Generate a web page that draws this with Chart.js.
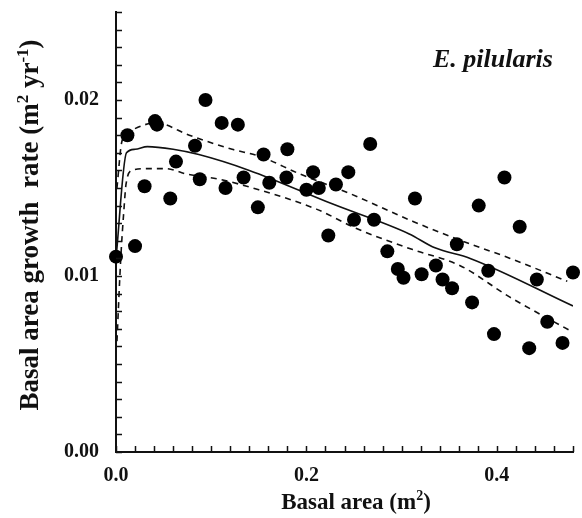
<!DOCTYPE html>
<html>
<head>
<meta charset="utf-8">
<script src="https://cdn.jsdelivr.net/npm/chart.js@4"></script>
<style>
  html, body { margin: 0; padding: 0; background: #fff; }
  #wrap { width: 582px; height: 518px; position: relative; }
</style>
</head>
<body>
<div id="wrap"><canvas id="chart"></canvas></div>
<script>
// observed trees: basal area (m2) vs growth rate (m2 / yr)
const obsX = [0.000, 0.020, 0.012, 0.041, 0.043, 0.030, 0.057, 0.063, 0.094, 0.083,
              0.088, 0.111, 0.128, 0.115, 0.134, 0.149, 0.155, 0.180, 0.161, 0.179,
              0.207, 0.200, 0.213, 0.231, 0.244, 0.267, 0.223, 0.250, 0.271, 0.314,
              0.285, 0.296, 0.302, 0.321, 0.336, 0.343, 0.353, 0.358, 0.374, 0.381,
              0.391, 0.397, 0.408, 0.424, 0.434, 0.442, 0.453, 0.469, 0.480];
const obsY = [0.0111, 0.0117, 0.0180, 0.0188, 0.0186, 0.0151, 0.0144, 0.0165, 0.0200, 0.0174,
              0.0155, 0.0187, 0.0186, 0.0150, 0.0156, 0.0139, 0.0169, 0.0172, 0.0153, 0.0156,
              0.0159, 0.0149, 0.0150, 0.0152, 0.0159, 0.0175, 0.0123, 0.0132, 0.0132, 0.0144,
              0.0114, 0.0104, 0.0099, 0.0101, 0.0106, 0.0098, 0.0093, 0.0118, 0.0085, 0.0140,
              0.0103, 0.0067, 0.0156, 0.0128, 0.0059, 0.0098, 0.0074, 0.0062, 0.0102];

// fitted curve
const fitX = [0.000, 0.011, 0.020, 0.033, 0.060, 0.087, 0.140, 0.227, 0.308, 0.335, 0.372, 0.480];
const fitY = [0.0110, 0.0170, 0.0172, 0.01735, 0.0172, 0.0169, 0.0160, 0.0141, 0.01239, 0.0116, 0.0110, 0.0083];

// confidence band
const upX = [0.001, 0.006, 0.012, 0.019, 0.042, 0.077, 0.122, 0.151, 0.193, 0.245, 0.312, 0.358, 0.414, 0.474];
const upY = [0.0150, 0.0176, 0.0181, 0.01835, 0.0187, 0.0180, 0.0172, 0.0168, 0.0158, 0.0147, 0.0131, 0.0121, 0.0110, 0.0097];
const loX = [0.001, 0.005, 0.0085, 0.0105, 0.017, 0.0315, 0.0526, 0.0737, 0.108, 0.150, 0.2105, 0.2526, 0.3116, 0.361, 0.4137, 0.4768];
const loY = [0.0063, 0.0110, 0.0139, 0.0152, 0.0160, 0.0161, 0.0161, 0.0158, 0.0155, 0.0149, 0.0138, 0.0127, 0.0115, 0.0106, 0.0088, 0.0069];

const xTickLabels = ['0.0', '0.2', '0.4'];
const yTickLabels = ['0.00', '0.01', '0.02'];

const toPts = (xs, ys) => xs.map((x, i) => ({ x: x, y: ys[i] }));
const INK = '#111';
const SERIF = '"Liberation Serif", "Times New Roman", serif';

// inward tick marks on both axes
const innerTicks = {
    id: 'innerTicks',
    afterDatasetsDraw(chart) {
        const { ctx, chartArea, scales } = chart;
        ctx.save();
        ctx.strokeStyle = INK;
        ctx.lineWidth = 1.5;
        ctx.beginPath();
        scales.x.ticks.forEach(t => {
            const px = Math.round(scales.x.getPixelForValue(t.value)) + 0.5;
            ctx.moveTo(px, chartArea.bottom);
            ctx.lineTo(px, chartArea.bottom - 6);
        });
        scales.y.ticks.forEach(t => {
            const py = Math.round(scales.y.getPixelForValue(t.value)) + 0.5;
            ctx.moveTo(chartArea.left, py);
            ctx.lineTo(chartArea.left + 6, py);
        });
        ctx.stroke();
        ctx.restore();
    }
};

// axis titles with superscripts + species label
function drawRich(ctx, parts, size) {
    let w = 0;
    parts.forEach(p => {
        ctx.font = `bold ${p.sup ? Math.round(size * 0.62) : size}px ${SERIF}`;
        p.w = ctx.measureText(p.t).width;
        w += p.w;
    });
    let x = -w / 2;
    parts.forEach(p => {
        ctx.font = `bold ${p.sup ? Math.round(size * 0.62) : size}px ${SERIF}`;
        ctx.fillText(p.t, x, p.sup ? -size * 0.38 : 0);
        x += p.w;
    });
}

const titles = {
    id: 'titles',
    afterDraw(chart) {
        const ctx = chart.ctx;
        ctx.save();
        ctx.fillStyle = INK;
        ctx.textBaseline = 'alphabetic';

        ctx.save();
        ctx.translate(356, 509);
        drawRich(ctx, [{ t: 'Basal area (m' }, { t: '2', sup: true }, { t: ')' }], 23);
        ctx.restore();

        ctx.save();
        ctx.translate(38, 225);
        ctx.rotate(-Math.PI / 2);
        drawRich(ctx, [{ t: 'Basal area growth  rate (m' }, { t: '2', sup: true },
                       { t: ' yr' }, { t: '-1', sup: true }, { t: ')' }], 27);
        ctx.restore();

        ctx.font = `italic bold 26px ${SERIF}`;
        ctx.textAlign = 'left';
        ctx.fillText('E. pilularis', 433, 67);
        ctx.restore();
    }
};

function init() {
    const ctx = document.getElementById('chart').getContext('2d');
    new Chart(ctx, {
        type: 'scatter',
        data: {
            datasets: [
                { label: 'observed', data: toPts(obsX, obsY), pointRadius: 7, pointHoverRadius: 7,
                  backgroundColor: '#000', borderColor: '#000', borderWidth: 0, clip: false },
                { label: 'fit', data: toPts(fitX, fitY), showLine: true, pointRadius: 0,
                  borderColor: INK, borderWidth: 1.6, cubicInterpolationMode: 'monotone' },
                { label: 'upper', data: toPts(upX, upY), showLine: true, pointRadius: 0,
                  borderColor: INK, borderWidth: 1.6, borderDash: [6, 5], cubicInterpolationMode: 'monotone' },
                { label: 'lower', data: toPts(loX, loY), showLine: true, pointRadius: 0,
                  borderColor: INK, borderWidth: 1.6, borderDash: [6, 5], cubicInterpolationMode: 'monotone' }
            ]
        },
        options: {
            responsive: true,
            maintainAspectRatio: false,
            animation: false,
            events: [],
            layout: { padding: { left: 0, right: 9, top: 12, bottom: 0 } },
            plugins: { legend: { display: false }, tooltip: { enabled: false } },
            scales: {
                x: {
                    type: 'linear', min: 0, max: 0.48,
                    grid: { display: false, drawTicks: false },
                    border: { display: true, color: INK, width: 2 },
                    afterFit: s => { s.height = 66; s.paddingLeft = 0; s.paddingRight = 0; },
                    ticks: {
                        stepSize: 0.02, autoSkip: false, maxRotation: 0, padding: 12,
                        color: INK, font: { family: SERIF, size: 20, weight: 'bold' },
                        callback: v => {
                            const i = Math.round(v / 0.2);
                            return Math.abs(v - i * 0.2) < 1e-6 ? (xTickLabels[i] || '') : '';
                        }
                    }
                },
                y: {
                    type: 'linear', min: 0, max: 0.025,
                    grid: { display: false, drawTicks: false },
                    border: { display: true, color: INK, width: 2 },
                    afterFit: s => { s.width = 116; s.paddingTop = 0; s.paddingBottom = 0; },
                    ticks: {
                        stepSize: 0.001, autoSkip: false, padding: 17,
                        color: INK, font: { family: SERIF, size: 20, weight: 'bold' },
                        callback: v => {
                            const i = Math.round(v / 0.01);
                            return Math.abs(v - i * 0.01) < 1e-7 ? (yTickLabels[i] || '') : '';
                        }
                    }
                }
            }
        },
        plugins: [innerTicks, titles]
    });
}

document.addEventListener('DOMContentLoaded', init);
</script>
</body>
</html>
